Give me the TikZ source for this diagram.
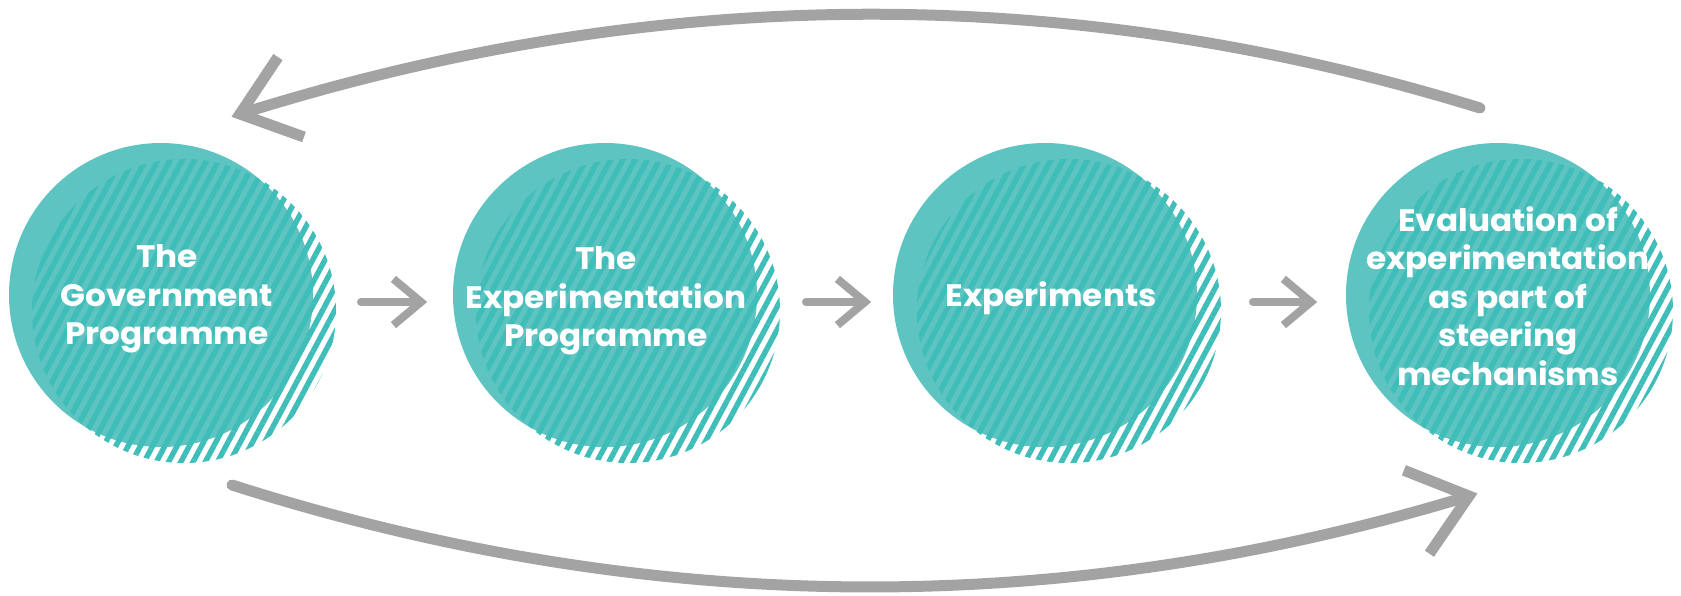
\documentclass[tikz,border=0pt]{standalone}
\usepackage{fontspec}
\setmainfont{Poppins}[FakeStretch=1.055]
\usetikzlibrary{patterns.meta,calc}
\definecolor{tealsolid}{HTML}{5DC4C1}
\definecolor{tealstripe}{HTML}{3FBDB9}
\definecolor{arrowgray}{HTML}{A3A3A3}
\begin{document}
\begin{tikzpicture}[x=1pt,y=-1pt,
  solidc/.style={circle,fill=tealsolid,minimum size=304pt,inner sep=0pt,draw=none},
  hatchc/.style={circle,minimum size=304pt,inner sep=0pt,draw=none,
    pattern={Lines[angle=62,distance=10.8pt,line width=5.4pt]},pattern color=tealstripe},
  label/.style={text=white,font=\bfseries\fontsize{31}{38.5}\selectfont,align=center,inner sep=0pt},
  bigshaft/.style={draw=arrowgray,line width=11pt,line cap=round},
  bighead/.style={draw=arrowgray,line width=11pt,line cap=butt,line join=miter},
  smallshaft/.style={draw=arrowgray,line width=8pt,line cap=round},
  smallhead/.style={draw=arrowgray,line width=8pt,line cap=butt,line join=miter}]
\useasboundingbox (0,0) rectangle (1681,595);
% circles
\node[solidc] (s1) at (161,295) {};
\node[hatchc] (h1) at (184,311) {};
\node[solidc] (s2) at (605,295) {};
\node[hatchc] (h2) at (628,311) {};
\node[solidc] (s3) at (1045,295) {};
\node[hatchc] (h3) at (1069,311) {};
\node[solidc] (s4) at (1498,295) {};
\node[hatchc] (h4) at (1521,311) {};
% labels
\node[label] (t1) at (167,299) {The\\Government\\Programme};
\node[label] (t2) at (606,301) {The\\Experimentation\\Programme};
\node[label] (t3) at (1051,298) {Experiments};
\node[label] (t4) at (1508,296) {Evaluation of\\experimentation\\as part of\\steering\\mechanisms};
% small arrows
\coordinate (a1s) at (361,302); \coordinate (a1e) at (421,302);
\coordinate (a2s) at (806,302); \coordinate (a2e) at (865,302);
\coordinate (a3s) at (1253,302); \coordinate (a3e) at (1311,302);
\foreach \i in {1,2,3}{
  \draw[smallshaft] (a\i s) -- (a\i e);
  \draw[smallhead] (a\i e) ++(-27.6,-23.1) -- (a\i e) -- ++(-27.6,23.1);
}
% big feedback arrows
\coordinate (topstart) at (1480,108);
\coordinate (topend) at (240,114);
\draw[bigshaft] (topstart) .. controls (1069,-19) and (656,-17) .. (topend);
\draw[bighead] (topend) ++(38,-57) -- (topend) -- ++(64,23);
\coordinate (botstart) at (232,485);
\coordinate (botend) at (1469,496);
\draw[bigshaft] (botstart) .. controls (646,617) and (1059,621) .. (botend);
\draw[bighead] (botend) ++(-65.1,-25.7) -- (botend) -- ++(-39.6,57.7);
\end{tikzpicture}
\end{document}
